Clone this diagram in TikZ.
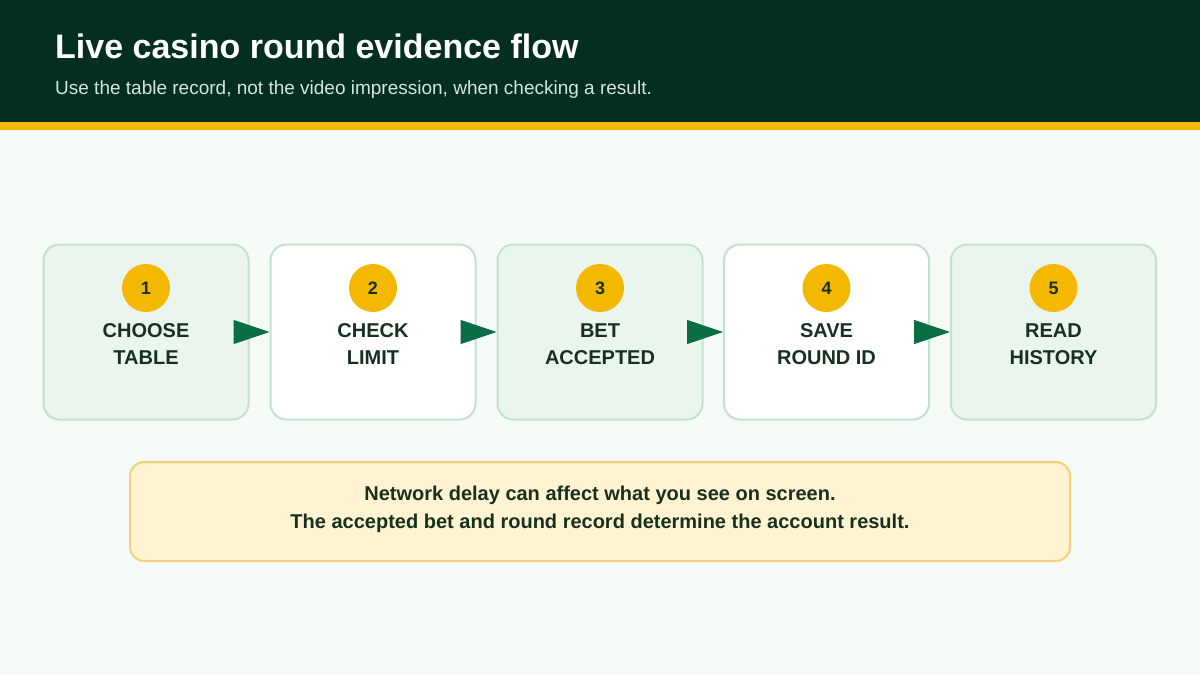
\documentclass[tikz,border=0pt]{standalone}
\usepackage{fontspec}
\setmainfont{Liberation Sans}
\usetikzlibrary{arrows.meta}
\definecolor{bgc}{HTML}{F5FAF6}
\definecolor{headc}{HTML}{052E22}
\definecolor{goldc}{HTML}{F5B800}
\definecolor{subc}{HTML}{D4E6DC}
\definecolor{boxfa}{HTML}{EAF5EE}
\definecolor{boxline}{HTML}{C4E0CE}
\definecolor{textc}{HTML}{17301F}
\definecolor{arrowc}{HTML}{0A6E45}
\definecolor{notefill}{HTML}{FFF3D1}
\definecolor{noteline}{HTML}{F0D27A}
\tikzset{
  stepbox/.style={draw=boxline, line width=2pt, rounded corners=16pt, minimum width=205pt, minimum height=175pt, inner sep=0pt},
  numc/.style={circle, fill=goldc, minimum size=48pt, inner sep=0pt, text=textc, font=\fontsize{18}{20}\selectfont\bfseries},
  lbl/.style={text=textc, align=center, font=\fontsize{20}{27}\selectfont\bfseries, anchor=base},
  flowarrow/.style={arrowc, line width=1pt, -{Triangle[length=36pt,width=24pt]}},
}
\begin{document}
\begin{tikzpicture}[x=1pt,y=-1pt]
\useasboundingbox (0,0) rectangle (1200,675);
\fill[bgc] (0,0) rectangle (1200,675);
\fill[headc] (0,0) rectangle (1200,122);
\fill[goldc] (0,122) rectangle (1200,130);
\node[anchor=base west, inner sep=0pt, text=white, font=\fontsize{34}{38}\selectfont\bfseries] (title) at (55,58) {Live casino round evidence flow};
\node[anchor=base west, inner sep=0pt, text=subc, font=\fontsize{19}{22}\selectfont] (sub) at (55,94) {Use the table record, not the video impression, when checking a result.};
% boxes
\node[stepbox, fill=boxfa] (b1) at (146,332) {};
\node[stepbox, fill=white] (b2) at (373,332) {};
\node[stepbox, fill=boxfa] (b3) at (600,332) {};
\node[stepbox, fill=white] (b4) at (826.5,332) {};
\node[stepbox, fill=boxfa] (b5) at (1053.5,332) {};
\node[numc] (n1) at (146,288) {1};
\node[numc] (n2) at (373,288) {2};
\node[numc] (n3) at (600,288) {3};
\node[numc] (n4) at (826.5,288) {4};
\node[numc] (n5) at (1053.5,288) {5};
\node[lbl] (l1) at (146,364) {CHOOSE\\TABLE};
\node[lbl] (l2) at (373,364) {CHECK\\LIMIT};
\node[lbl] (l3) at (600,364) {BET\\ACCEPTED};
\node[lbl] (l4) at (826.5,364) {SAVE\\ROUND ID};
\node[lbl] (l5) at (1053.5,364) {READ\\HISTORY};
\draw[flowarrow] ([xshift=-14pt]b1.east) -- (b2.west);
\draw[flowarrow] ([xshift=-14pt]b2.east) -- (b3.west);
\draw[flowarrow] ([xshift=-14pt]b3.east) -- (b4.west);
\draw[flowarrow] ([xshift=-14pt]b4.east) -- (b5.west);
% note
\node[draw=noteline, fill=notefill, line width=2pt, rounded corners=14pt, minimum width=940pt, minimum height=99pt, inner sep=0pt] (note) at (600,511.5) {};
\node[anchor=base, text=textc, align=center, font=\fontsize{20}{28}\selectfont\bfseries] (nt) at (600,528) {Network delay can affect what you see on screen.\\The accepted bet and round record determine the account result.};
\end{tikzpicture}
\end{document}
